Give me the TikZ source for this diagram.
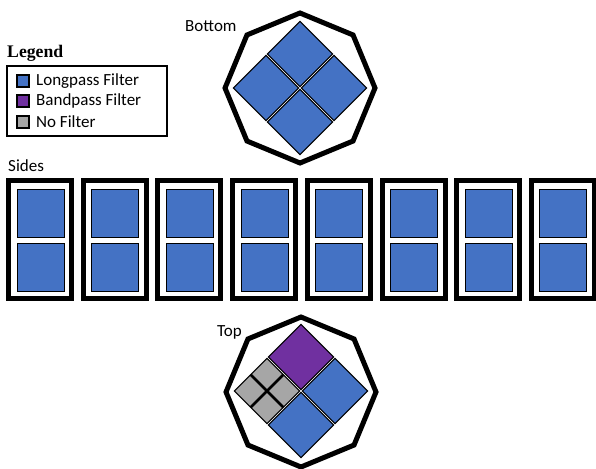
\documentclass[tikz,border=0pt]{standalone}
\usepackage{fontspec}
\setmainfont{Carlito}
\newfontfamily\legfont{Liberation Serif}
\definecolor{lpblue}{HTML}{4472C4}
\definecolor{bppurple}{HTML}{7030A0}
\definecolor{nfgray}{HTML}{A6A6A6}
\tikzset{
  lbl/.style={font=\fontsize{17}{20}\selectfont, inner sep=0pt, anchor=west},
  octo/.style={draw=black, line width=5pt, miter limit=10, line join=miter},
  frame/.style={draw=black, line width=5pt},
  filt/.style={draw=black, line width=1pt},
  grid/.style={draw=black, line width=2.5pt},
  swatch/.style={draw=black, line width=1.2pt},
}
\newcommand\dsq[4]{% cx cy r color
  \path[filt, fill=#4] (#1,#2-#3) -- (#1+#3,#2) -- (#1,#2+#3) -- (#1-#3,#2) -- cycle;}
\newcommand\octa[2]{%
  \path[octo] (#1,#2-75) -- (#1+53.03,#2-53.03) -- (#1+75,#2) -- (#1+53.03,#2+53.03)
    -- (#1,#2+75) -- (#1-53.03,#2+53.03) -- (#1-75,#2) -- (#1-53.03,#2-53.03) -- cycle;}
\begin{document}
\begin{tikzpicture}[x=1pt,y=-1pt]
\useasboundingbox (0,0) rectangle (596,468);
% Legend
\node[anchor=base west, inner sep=0pt, font=\legfont\bfseries\fontsize{17.7}{20}\selectfont] (legt) at (7,58) {Legend};
\draw[line width=2pt] (7,66) rectangle (167,136);
\path[swatch, fill=lpblue] (17,75) rectangle (29,87);
\path[swatch, fill=bppurple] (17,95) rectangle (29,107);
\path[swatch, fill=nfgray] (17,116) rectangle (29,128);
\node[lbl] (l1) at (36,81) {Longpass Filter};
\node[lbl] (l2) at (36,101) {Bandpass Filter};
\node[lbl] (l3) at (36,122) {No Filter};
% Bottom
\node[lbl] (bot) at (185,26) {Bottom};
\octa{300}{88}
\dsq{300}{54}{32.6}{lpblue}
\dsq{334}{88}{32.6}{lpblue}
\dsq{300}{122}{32.6}{lpblue}
\dsq{266}{88}{32.6}{lpblue}
% Sides
\node[lbl] (sides) at (8,166) {Sides};
\foreach \i in {0,...,7}{
  \pgfmathsetmacro\xo{6+74.7*\i}
  \path[frame] (\xo+2.5,180.5) rectangle (\xo+65.5,298.5);
  \path[filt, fill=lpblue] (\xo+11,189) rectangle (\xo+58,237);
  \path[filt, fill=lpblue] (\xo+11,243) rectangle (\xo+58,291);
}
% Top
\node[lbl] (top) at (217,332) {Top};
\octa{301}{392}
\dsq{301}{357}{32.6}{bppurple}
\dsq{335}{391}{32.6}{lpblue}
\dsq{301}{425}{32.6}{lpblue}
\dsq{267}{391}{32.6}{nfgray}
\draw[grid] (267+16.3,391-16.3) -- (267-16.3,391+16.3);
\draw[grid] (267-16.3,391-16.3) -- (267+16.3,391+16.3);
\end{tikzpicture}
\end{document}
